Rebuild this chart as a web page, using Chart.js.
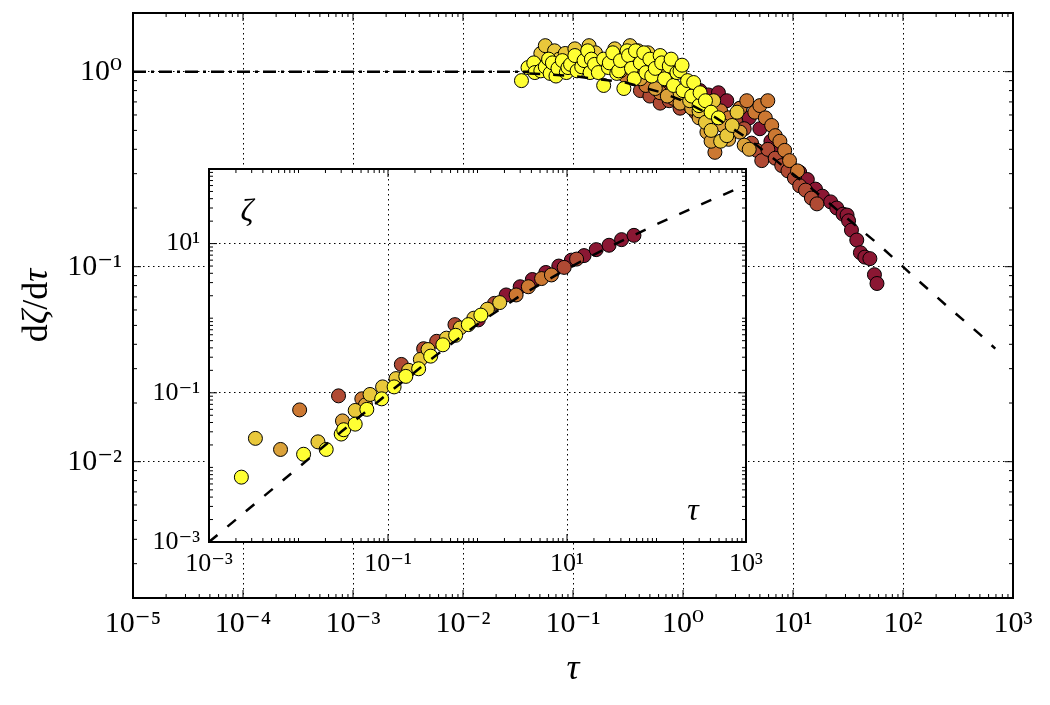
<!DOCTYPE html>
<html>
<head>
<meta charset="utf-8">
<script src="https://cdn.jsdelivr.net/npm/chart.js@4.4.1/dist/chart.umd.min.js"></script>
<style>
  html, body { margin: 0; padding: 0; background: #fff; }
  #wrap { position: relative; width: 1050px; height: 705px; }
  #mainChart { position: absolute; left: 0; top: 0; }
  #insetChart { position: absolute; left: 140px; top: 155px; }
</style>
</head>
<body>
<div id="wrap">
  <canvas id="mainChart" width="1050" height="705"></canvas>
  <canvas id="insetChart" width="626" height="425"></canvas>
</div>
<script>
// main panel: rate dζ/dτ vs τ, one list of [tau, value] per colour group
const mainYellow = [[0.034,0.90],[0.039,1.05],[0.044,1.11],[0.045,0.99],[0.051,1.01],[0.056,1.06],[0.060,1.16],[0.062,0.98],
  [0.065,1.11],[0.070,0.95],[0.073,1.04],[0.080,1.14],[0.087,0.99],[0.090,1.05],[0.095,1.09],[0.104,1.21],[0.109,1.01],
  [0.120,1.06],[0.126,1.14],[0.136,1.28],[0.143,0.99],[0.147,1.16],[0.157,1.09],[0.170,0.99],[0.19,0.85],[0.19,1.16],
  [0.21,1.05],[0.214,1.11],[0.23,1.25],[0.25,0.98],[0.26,1.01],[0.27,1.14],[0.29,0.82],[0.31,1.28],[0.32,1.21],[0.34,1.04],
  [0.36,0.92],[0.37,1.28],[0.41,1.11],[0.44,1.25],[0.46,0.99],[0.50,1.16],[0.52,0.95],[0.56,1.04],[0.62,1.21],[0.64,1.11],
  [0.68,0.92],[0.75,1.07],[0.78,1.16],[0.82,0.85],[0.88,0.99],[0.94,1.01],[0.98,1.08],[1.0,0.80],[1.1,0.90],[1.2,0.75],
  [1.25,0.88],[1.4,0.67],[1.43,0.78],[1.6,0.71],[1.8,0.62],[2.1,0.58]];
const mainGold = [[0.051,1.24],[0.056,1.36],[0.068,1.28],[0.075,1.16],[0.085,1.24],[0.104,1.31],[0.13,1.21],[0.14,1.36],
  [0.16,1.25],[0.19,1.14],[0.24,1.31],[0.30,1.07],[0.33,1.36],[0.39,1.28],[0.45,1.14],[0.48,1.25],[0.56,1.11],[0.64,0.99],
  [0.75,0.90],[0.94,0.78],[1.15,0.71],[1.4,0.63],[1.6,0.55],[1.8,0.50],[1.9,0.71],[2.2,0.44],[2.5,0.47],[2.8,0.53],[3.1,0.62]];
const mainAmber = [[0.104,1.11],[0.108,1.25],[0.18,1.14],[0.27,1.01],[0.39,0.95],[0.41,0.92],[0.56,0.82],[0.72,0.75],
  [0.94,0.69],[1.2,0.65],[1.4,0.58],[1.65,0.49],[1.8,0.44],[2.3,0.53],[2.6,0.45],[3.3,0.49],[3.6,0.42],[4.0,0.40]];
const mainOrange = [[0.30,0.95],[0.46,0.85],[0.62,0.78],[0.82,0.73],[1.15,0.67],[1.43,0.60],[1.95,0.386],[2.2,0.63],
  [2.6,0.58],[3.3,0.65],[3.8,0.71],[4.5,0.62],[5.0,0.67],[5.6,0.58],[5.9,0.71],[6.4,0.53],[6.9,0.47],[7.6,0.44],
  [8.4,0.395],[9.3,0.35],[11,0.31]];
const mainRust = [[0.41,0.80],[0.48,0.84],[0.50,0.75],[0.62,0.69],[0.70,0.78],[0.75,0.71],[0.94,0.65],[1.3,0.62],
  [1.7,0.58],[2.4,0.53],[3.0,0.56],[3.6,0.51],[4.2,0.43],[4.7,0.395],[5.2,0.35],[5.9,0.40],[6.9,0.36],[7.9,0.33],
  [9.0,0.31],[10.3,0.285],[11.5,0.26],[13,0.247],[14.7,0.225],[16.5,0.21]];
const mainCrimson = [[1.43,0.80],[1.7,0.76],[2.1,0.78],[2.5,0.71],[3.3,0.65],[4.0,0.58],[5.0,0.51],[6.3,0.44],[7.6,0.39],
  [9.3,0.33],[11.5,0.305],[13.5,0.28],[16,0.25],[18.5,0.23],[22,0.215],[25,0.20],[28.5,0.186],[31,0.184],[32,0.172],
  [34,0.154],[38,0.137],[41,0.118],[45,0.112],[50,0.110],[55,0.091],[58,0.082]];
const mainPlateau = [[1e-5,1],[0.04,1]];
const mainCurve = [[0.04,0.98],[0.1,0.95],[0.3,0.88],[0.6,0.79],[1,0.71],[2,0.58],[4,0.45],[8,0.33],[15,0.25],
  [30,0.18],[60,0.13],[120,0.091],[250,0.063],[500,0.045],[690,0.038]];

// inset: ζ vs τ
const insetYellow = [[0.0023,0.0074],[0.0114,0.015],[0.0204,0.0174],[0.030,0.028],[0.032,0.032],[0.043,0.038],
  [0.058,0.060],[0.085,0.083],[0.117,0.12],[0.158,0.166],[0.22,0.21],[0.30,0.31],[0.41,0.44],[0.57,0.59],[0.79,0.82],[1.09,1.10]];
const insetGold = [[0.0033,0.0245],[0.0165,0.022],[0.043,0.058],[0.063,0.095],[0.087,0.12],[0.123,0.155],[0.17,0.20],
  [0.23,0.28],[0.28,0.38],[0.45,0.54],[0.64,0.74],[0.91,1.0],[1.29,1.32],[1.77,1.62]];
const insetAmber = [[0.0063,0.0174],[0.031,0.042],[0.056,0.069]];
const insetOrange = [[0.0103,0.059],[0.051,0.083],[2.7,2.05],[3.7,2.64],[5.2,3.4],[6.7,3.8]];
const insetRust = [[0.028,0.091],[0.141,0.24],[0.25,0.39],[0.35,0.49],[0.56,0.82],[1.55,1.58],[9.3,4.8],[12.8,6.2]];
const insetCrimson = [[1.02,0.95],[2.09,2.05],[3.0,2.64],[4.1,3.3],[5.8,4.1],[8.1,5.0],[11.2,6.0],[15.5,6.9],
  [21.2,8.3],[29.5,9.5],[40.7,11.3],[56,12.9]];
const insetCurve = [[0.001,0.001],[0.01,0.01],[0.03,0.03],[0.1,0.098],[0.3,0.28],[1,0.83],[3,2.0],[10,4.6],
  [30,9.1],[100,18.1],[300,32.7],[1000,61.3]];

const mainXTicks = [1e-5, 1e-4, 1e-3, 1e-2, 1e-1, 1, 10, 100, 1000];
const mainXLabels = ['10⁻⁵', '10⁻⁴', '10⁻³', '10⁻²', '10⁻¹', '10⁰', '10¹', '10²', '10³'];
const mainYTicks = [0.01, 0.1, 1];
const mainYLabels = ['10⁻²', '10⁻¹', '10⁰'];
const insetXTicks = [1e-3, 1e-1, 10, 1000];
const insetXLabels = ['10⁻³', '10⁻¹', '10¹', '10³'];
const insetYTicks = [1e-3, 1e-1, 10];
const insetYLabels = ['10⁻³', '10⁻¹', '10¹'];

const colours = ['#ffff33', '#e9c83b', '#dba23a', '#cc7832', '#b04a34', '#8b1733'];
const serif = '"Liberation Serif", "DejaVu Serif", serif';

const toXY = arr => arr.map(p => ({x: p[0], y: p[1]}));

function scatterSet(points, i) {
  return {
    data: toXY(points), backgroundColor: colours[i], borderColor: '#000', borderWidth: 1,
    pointRadius: 7, order: i + 1
  };
}
function lineSet(points, dash) {
  return {
    data: toXY(points), showLine: true, borderColor: '#000', borderWidth: 2.5, borderDash: dash,
    pointRadius: 0, tension: 0, order: 0
  };
}

// inward ticks on all four sides + the box
const frameTicks = {
  id: 'frameTicks',
  afterDraw(chart, args, opts) {
    const {ctx, chartArea: a, scales} = chart;
    ctx.save();
    ctx.strokeStyle = '#000';
    ctx.lineWidth = 1;
    ['x', 'y'].forEach(id => {
      const s = scales[id];
      const lo = Math.floor(Math.log10(s.min)), hi = Math.ceil(Math.log10(s.max));
      for (let e = lo; e <= hi; e++) {
        for (let m = 1; m <= 9; m++) {
          const v = m * Math.pow(10, e);
          if (v < s.min * 0.999 || v > s.max * 1.001) continue;
          const len = (m === 1 && opts.major(id, e)) ? 8 : 4;
          const p = s.getPixelForValue(v);
          ctx.beginPath();
          if (id === 'x') {
            ctx.moveTo(p, a.bottom); ctx.lineTo(p, a.bottom - len);
            ctx.moveTo(p, a.top); ctx.lineTo(p, a.top + len);
          } else {
            ctx.moveTo(a.left, p); ctx.lineTo(a.left + len, p);
            ctx.moveTo(a.right, p); ctx.lineTo(a.right - len, p);
          }
          ctx.stroke();
        }
      }
    });
    ctx.lineWidth = 2;
    ctx.strokeRect(a.left, a.top, a.right - a.left, a.bottom - a.top);
    ctx.restore();
  }
};

// white face behind the inset axes only
const insetFace = {
  id: 'insetFace',
  beforeDraw(chart) {
    const {ctx, chartArea: a} = chart;
    ctx.save();
    ctx.fillStyle = '#fff';
    ctx.fillRect(a.left, a.top, a.right - a.left, a.bottom - a.top);
    ctx.restore();
  }
};

// axis titles with italic Greek letters
function drawRich(ctx, parts, size) {
  let w = 0;
  parts.forEach(p => { ctx.font = (p[1] ? 'italic ' : '') + size + 'px ' + serif; w += ctx.measureText(p[0]).width; });
  let x = -w / 2;
  parts.forEach(p => {
    ctx.font = (p[1] ? 'italic ' : '') + size + 'px ' + serif;
    ctx.fillText(p[0], x, 0);
    x += ctx.measureText(p[0]).width;
  });
}
const mainTitles = {
  id: 'mainTitles',
  afterDraw(chart) {
    const {ctx, chartArea: a} = chart;
    ctx.save();
    ctx.fillStyle = '#000';
    ctx.textBaseline = 'middle';
    ctx.textAlign = 'left';
    ctx.translate(38, (a.top + a.bottom) / 2);
    ctx.rotate(-Math.PI / 2);
    drawRich(ctx, [['d', false], ['ζ', true], ['/d', false], ['τ', true]], 36);
    ctx.restore();
    ctx.save();
    ctx.fillStyle = '#000';
    ctx.textBaseline = 'middle';
    ctx.textAlign = 'center';
    ctx.font = 'italic 36px ' + serif;
    ctx.fillText('τ', (a.left + a.right) / 2, 670);
    ctx.restore();
  }
};
const insetTitles = {
  id: 'insetTitles',
  afterDraw(chart) {
    const {ctx, chartArea: a} = chart;
    ctx.save();
    ctx.fillStyle = '#000';
    ctx.textBaseline = 'middle';
    ctx.textAlign = 'center';
    ctx.font = 'italic 32px ' + serif;
    ctx.fillText('ζ', a.left + 38, a.top + 44);
    ctx.fillText('τ', a.right - 53, a.bottom - 30);
    ctx.restore();
  }
};

function logAxis(min, max, ticks, labels, size, pad, fit) {
  return {
    type: 'logarithmic', min: min, max: max,
    afterBuildTicks: s => { s.ticks = ticks.map(v => ({value: v})); },
    afterFit: s => {
      fit(s);
      s.paddingTop = 0; s.paddingBottom = 0; s.paddingLeft = 0; s.paddingRight = 0;
    },
    ticks: {
      autoSkip: false, maxRotation: 0, padding: pad, color: '#000',
      font: {family: serif, size: size},
      callback: (v, i) => labels[i]
    },
    grid: {color: '#000', lineWidth: 1, drawTicks: false},
    border: {display: false, dash: [1.5, 3.5]}
  };
}

Chart.defaults.animation = false;

new Chart(document.getElementById('mainChart'), {
  type: 'scatter',
  data: {
    datasets: [
      lineSet(mainPlateau, [13, 5, 3, 5]),
      lineSet(mainCurve, [11, 13]),
      scatterSet(mainYellow, 0), scatterSet(mainGold, 1), scatterSet(mainAmber, 2),
      scatterSet(mainOrange, 3), scatterSet(mainRust, 4), scatterSet(mainCrimson, 5)
    ]
  },
  options: {
    responsive: false,
    layout: {padding: {top: 13, right: 37, left: 0, bottom: 0}},
    plugins: {
      legend: {display: false}, tooltip: {enabled: false},
      frameTicks: {major: () => true}
    },
    scales: {
      x: logAxis(1e-5, 1e3, mainXTicks, mainXLabels, 30, 8, s => { s.height = 107; }),
      y: logAxis(0.002, 2, mainYTicks, mainYLabels, 30, 11, s => { s.width = 133; })
    }
  },
  plugins: [frameTicks, mainTitles]
});

new Chart(document.getElementById('insetChart'), {
  type: 'scatter',
  data: {
    datasets: [
      lineSet(insetCurve, [11, 13]),
      scatterSet(insetYellow, 0), scatterSet(insetGold, 1), scatterSet(insetAmber, 2),
      scatterSet(insetOrange, 3), scatterSet(insetRust, 4), scatterSet(insetCrimson, 5)
    ]
  },
  options: {
    responsive: false,
    layout: {padding: {top: 14, right: 20, left: 0, bottom: 0}},
    plugins: {
      legend: {display: false}, tooltip: {enabled: false},
      frameTicks: {major: (id, e) => Math.abs(e % 2) === 1}
    },
    scales: {
      x: logAxis(1e-3, 1e3, insetXTicks, insetXLabels, 26, 7, s => { s.height = 38; }),
      y: logAxis(1e-3, 100, insetYTicks, insetYLabels, 26, 9, s => { s.width = 69; })
    }
  },
  plugins: [insetFace, frameTicks, insetTitles]
});
</script>
</body>
</html>
